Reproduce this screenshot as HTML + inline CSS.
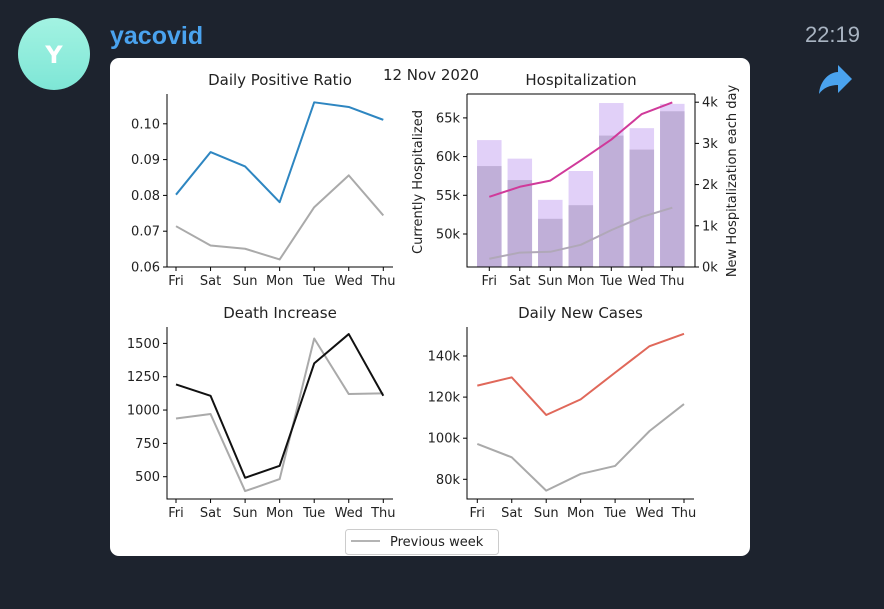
<!DOCTYPE html>
<html><head><meta charset="utf-8">
<style>
body{margin:0;width:884px;height:604px;background:#1d232e;overflow:hidden;font-family:"Liberation Sans",sans-serif}
svg text{font-family:"DejaVu Sans","Liberation Sans",sans-serif}
</style></head>
<body>
<svg id="s" width="884" height="604" viewBox="0 0 884 604">
<defs><linearGradient id="ag" x1="0" y1="0" x2="0" y2="1"><stop offset="0" stop-color="#a3f3e2"/><stop offset="1" stop-color="#7ee6d6"/></linearGradient></defs>
<circle cx="54" cy="54" r="36" fill="url(#ag)"/>
<text x="54" y="63" text-anchor="middle" font-size="24" font-weight="bold" fill="#fff">Y</text>
<text x="110" y="44" font-size="25" font-weight="bold" fill="#4aa3ef" style="font-family:'Liberation Sans',sans-serif">yacovid</text>
<text x="860" y="42" text-anchor="end" font-size="22" fill="#a9b4c2" style="font-family:'Liberation Sans',sans-serif">22:19</text>
<path d="M819,94 C820,80 830,72 838,72 L838,65 L852,79 L838,93 L838,85 C830,85 823,88 819,94 Z" fill="#4aa3ef"/>
<rect x="110" y="58" width="640" height="498" rx="9" fill="#fff"/>
<text x="431" y="80" text-anchor="middle" font-size="15" fill="#222">12 Nov 2020</text>
<g id="g"></g>
<rect x="345.5" y="529.5" width="153" height="25" rx="3" fill="#fff" stroke="#ccc"/>
<line x1="351" y1="541" x2="380" y2="541" stroke="#aaa" stroke-width="1.8"/>
<text x="390" y="546" font-size="13" fill="#222">Previous week</text>
</svg>
<script>
const days=["Fri","Sat","Sun","Mon","Tue","Wed","Thu"];
const ratioThis=[0.0802,0.0921,0.0881,0.0781,0.1060,0.1047,0.1011];
const ratioPrev=[0.0714,0.0660,0.0651,0.0621,0.0767,0.0856,0.0744];
const ratioTicks=[0.06,0.07,0.08,0.09,0.10];
const deathThis=[1192,1107,492,582,1350,1570,1107];
const deathPrev=[937,970,392,482,1537,1120,1125];
const deathTicks=[500,750,1000,1250,1500];
const casesThis=[125.6,129.6,111.3,118.9,131.9,144.8,150.8];
const casesPrev=[97.2,90.7,74.5,82.6,86.5,103.5,116.6];
const casesTicks=[80,100,120,140];
const hospThis=[54.8,56.1,56.9,59.5,62.2,65.5,67.0];
const hospPrev=[46.8,47.6,47.7,48.6,50.5,52.2,53.4];
const hospTicks=[50,55,60,65];
const newHospThis=[2.45,2.11,1.17,1.50,3.19,2.85,3.78];
const newHospPrev=[3.08,2.63,1.63,2.33,3.98,3.37,3.96];
const newHospTicks=[0,1,2,3,4];

const G=document.getElementById('g');
const NS='http://www.w3.org/2000/svg';
function mk(tag,at,parent){const e=document.createElementNS(NS,tag);for(const k in at)e.setAttribute(k,at[k]);(parent||G).appendChild(e);return e;}
function txt(x,y,s,anchor,size,extra){const t=mk('text',{x:x,y:y,'text-anchor':anchor,'font-size':size,fill:'#222'});if(extra)for(const k in extra)t.setAttribute(k,extra[k]);t.textContent=s;return t;}

function panel(o){
  const sx=i=>o.x0+(o.x1-o.x0)*i/(days.length-1);
  const sy=v=>o.bottom-(v-o.vmin)/(o.vmax-o.vmin)*(o.bottom-o.top);
  const t=txt((o.left+o.right)/2,o.top-9,o.title,'middle',15);
  
  
  return {sx,sy};
}
function axes(o,sx,sy){
  const a=mk('path',{d:`M${o.left},${o.top}V${o.bottom}H${o.right}`,fill:'none',stroke:'#000','stroke-width':1});
  
  
  o.ticks.forEach(v=>{const y=sy(v);mk('line',{x1:o.left-4,y1:y,x2:o.left,y2:y,stroke:'#000'});
    const l=txt(o.left-7,y+4.5,o.fmt(v),'end',13);
    
    });
  days.forEach((d,i)=>{const x=sx(i);mk('line',{x1:x,y1:o.bottom,x2:x,y2:o.bottom+4,stroke:'#000'});
    const l=txt(x,o.bottom+18,d,'middle',13);
    
    });
}
function line(vals,sx,sy,color,w,name){
  const p=mk('polyline',{points:vals.map((v,i)=>sx(i)+','+sy(v)).join(' '),fill:'none',stroke:color,'stroke-width':w,'stroke-linejoin':'round'});
  
  
}

let o1={left:167,right:393,top:94,bottom:267,x0:176,x1:383.3,vmin:0.06,title:'Daily Positive Ratio',ticks:ratioTicks,fmt:v=>v.toFixed(2),name:'positive-ratio'};
o1.vmax=0.06+(267-94)/35.8*0.01;
let p1=panel(o1);
line(ratioPrev,p1.sx,p1.sy,'#aaaaaa',2,'positive-ratio-previous-line');
line(ratioThis,p1.sx,p1.sy,'#2e86c1',2,'positive-ratio-line');
axes(o1,p1.sx,p1.sy);

let o3={left:167,right:393,top:327,bottom:499,x0:176,x1:383.3,title:'Death Increase',ticks:deathTicks,fmt:v=>String(v),name:'death-increase'};
o3.vmin=500-(499-476.7)/133.3*1000;o3.vmax=500+(476.7-327)/133.3*1000;
let p3=panel(o3);
line(deathPrev,p3.sx,p3.sy,'#aaaaaa',2,'death-previous-line');
line(deathThis,p3.sx,p3.sy,'#111111',2,'death-line');
axes(o3,p3.sx,p3.sy);

let o4={left:467,right:694,top:327,bottom:499,x0:477.3,x1:684,title:'Daily New Cases',ticks:casesTicks,fmt:v=>v+'k',name:'new-cases'};
o4.vmin=80-(499-479.3)/41.1*20;o4.vmax=80+(479.3-327)/41.1*20;
let p4=panel(o4);
line(casesPrev,p4.sx,p4.sy,'#aaaaaa',2,'cases-previous-line');
line(casesThis,p4.sx,p4.sy,'#e0685a',2,'cases-line');
axes(o4,p4.sx,p4.sy);

let o2={left:467,right:695,top:94,bottom:267,x0:489.3,x1:672.3,title:'Hospitalization',ticks:hospTicks,fmt:v=>v+'k',name:'hospitalization'};
o2.vmin=50-(267-234)/38.7*5;o2.vmax=50+(234-94)/38.7*5;
let p2=panel(o2);
const rmax=(267-94)/41.2;
const ry=v=>267-v/rmax*(267-94);
const bw=24.5;
newHospPrev.forEach((v,i)=>{const b=mk('rect',{x:p2.sx(i)-bw/2,y:ry(v),width:bw,height:267-ry(v),fill:'#e1d0f8'});
  
  });
newHospThis.forEach((v,i)=>{const b=mk('rect',{x:p2.sx(i)-bw/2,y:ry(v),width:bw,height:267-ry(v),fill:'#c0afd8'});
  
  });
line(hospPrev,p2.sx,p2.sy,'#b0a8b8',2,'hospitalized-previous-line');
line(hospThis,p2.sx,p2.sy,'#d03a9a',2,'hospitalized-line');
axes(o2,p2.sx,p2.sy);
mk('line',{x1:695,y1:94,x2:695,y2:267,stroke:'#000'});
mk('line',{x1:467,y1:94,x2:695,y2:94,stroke:'#000'});
newHospTicks.forEach(v=>{const y=ry(v);mk('line',{x1:695,y1:y,x2:699,y2:y,stroke:'#000'});
  const l=txt(702,y+4.5,v+'k','start',13);
  
  });
let yl=txt(0,0,'Currently Hospitalized','middle',13,{transform:'translate(422,182) rotate(-90)'});


let yr=txt(0,0,'New Hospitalization each day','middle',13,{transform:'translate(736,181) rotate(-90)'});


</script>
</body></html>
